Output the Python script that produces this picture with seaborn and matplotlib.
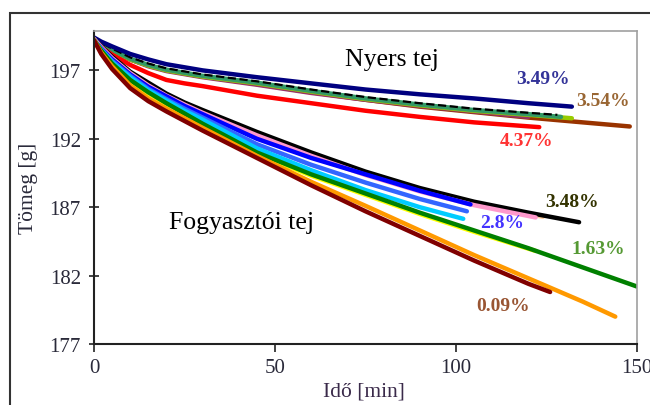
import matplotlib
matplotlib.use("Agg")
import numpy as np
import pandas as pd
import seaborn as sns
import matplotlib.pyplot as plt
from matplotlib.patches import Rectangle

# ---------------- data ----------------
# "Nyers tej" (raw milk) series
t_brown = [0, 2, 5, 10, 15, 20, 30, 45, 60, 75, 90, 105, 120, 135, 148]
v_brown = [199.3, 198.85, 198.35, 197.8, 197.35, 197.0, 196.55, 196.0, 195.4, 194.85, 194.35, 193.95, 193.55, 193.2, 192.9]
t_mauve = [0, 2, 5, 10, 15, 20, 30, 45, 60, 75, 90, 105, 120]
v_mauve = [199.3, 198.85, 198.35, 197.8, 197.3, 196.95, 196.5, 195.95, 195.35, 194.85, 194.4, 194.0, 193.6]
t_lime = [0, 2, 5, 10, 15, 20, 30, 45, 60, 75, 90, 105, 120, 132]
v_lime = [199.35, 198.9, 198.45, 197.8, 197.35, 197.0, 196.55, 196.05, 195.45, 194.9, 194.45, 194.05, 193.75, 193.5]
t_seagreen = [0, 2, 5, 10, 15, 20, 30, 45, 60, 75, 90, 105, 120, 129]
v_seagreen = [199.35, 198.95, 198.5, 197.85, 197.4, 197.05, 196.6, 196.1, 195.5, 194.95, 194.5, 194.1, 193.8, 193.6]
t_rawblack = [0, 2, 5, 10, 15, 20, 30, 45, 60, 75, 90, 105, 120, 128]
v_rawblack = [199.4, 199.0, 198.6, 197.95, 197.5, 197.15, 196.7, 196.2, 195.6, 195.05, 194.6, 194.2, 193.9, 193.75]
t_navy = [0, 2, 5, 10, 15, 20, 30, 45, 60, 75, 90, 105, 120, 132]
v_navy = [199.4, 199.1, 198.75, 198.2, 197.8, 197.45, 197.0, 196.5, 196.05, 195.6, 195.25, 194.95, 194.6, 194.35]
t_red = [0, 2, 5, 10, 15, 20, 25, 30, 45, 60, 75, 90, 105, 123]
v_red = [199.2, 198.7, 198.15, 197.4, 196.8, 196.3, 196.05, 195.85, 195.15, 194.6, 194.05, 193.6, 193.2, 192.85]

# "Fogyasztói tej" (consumer milk) series
t_peach = [0, 2, 5, 10, 15, 20, 25, 30, 45, 60, 75, 90, 105, 124]
v_peach = [199.3, 198.7, 197.95, 196.85, 195.95, 195.2, 194.55, 194.0, 192.4, 190.9, 189.5, 188.3, 187.3, 186.3]
t_black = [0, 2, 5, 10, 15, 20, 25, 30, 45, 60, 75, 90, 105, 120, 134]
v_black = [199.3, 198.75, 198.0, 196.9, 196.1, 195.3, 194.65, 194.1, 192.5, 191.0, 189.6, 188.4, 187.4, 186.6, 185.9]
t_pink = [0, 2, 5, 10, 15, 20, 25, 30, 45, 60, 75, 90, 105, 122]
v_pink = [199.3, 198.7, 197.9, 196.8, 195.9, 195.15, 194.5, 193.9, 192.25, 190.75, 189.35, 188.15, 187.15, 186.25]
t_blue = [0, 2, 5, 10, 15, 20, 25, 30, 45, 60, 75, 90, 104]
v_blue = [199.2, 198.6, 197.8, 196.7, 195.8, 195.1, 194.4, 193.8, 192.0, 190.6, 189.4, 188.2, 187.2]
t_dodger = [0, 2, 5, 10, 15, 20, 25, 30, 45, 60, 75, 90, 103]
v_dodger = [199.2, 198.55, 197.7, 196.6, 195.65, 194.9, 194.2, 193.55, 191.6, 190.1, 188.8, 187.6, 186.7]
t_cyan = [0, 2, 5, 10, 15, 20, 25, 30, 45, 60, 75, 90, 102]
v_cyan = [199.2, 198.5, 197.6, 196.5, 195.55, 194.8, 194.05, 193.4, 191.3, 189.7, 188.25, 187.0, 186.15]
t_yellow = [0, 2, 5, 10, 15, 20, 25, 30, 45, 60, 75, 90, 105, 122]
v_yellow = [199.2, 198.4, 197.4, 196.2, 195.3, 194.5, 193.75, 193.0, 190.9, 189.3, 187.9, 186.5, 185.2, 183.8]
t_green = [0, 2, 5, 10, 15, 20, 25, 30, 45, 60, 75, 90, 105, 120, 135, 150]
v_green = [199.2, 198.45, 197.5, 196.3, 195.4, 194.6, 193.85, 193.1, 191.0, 189.4, 188.0, 186.6, 185.3, 184.0, 182.6, 181.2]
t_orange = [0, 2, 5, 10, 15, 20, 25, 30, 45, 60, 75, 90, 105, 120, 135, 144]
v_orange = [199.2, 198.3, 197.3, 195.9, 194.95, 194.2, 193.5, 192.8, 190.75, 188.85, 187.1, 185.3, 183.5, 181.8, 180.1, 179.0]
t_maroon = [0, 2, 5, 10, 15, 20, 25, 30, 45, 60, 75, 90, 105, 120, 126]
v_maroon = [199.2, 198.2, 197.1, 195.7, 194.75, 194.0, 193.3, 192.6, 190.6, 188.6, 186.7, 184.9, 183.1, 181.4, 180.8]

x_ticks = [0, 50, 100, 150]
y_ticks = [177, 182, 187, 192, 197]
pct_labels = ["3.49%", "3.54%", "4.37%", "3.48%", "2.8%", "1.63%", "0.09%"]
pct_x = [124, 140.6, 119.6, 132, 112.7, 139.2, 113]
pct_y = [196.4, 194.8, 191.86, 187.4, 185.86, 183.95, 179.8]
group_labels = ["Nyers tej", "Fogyasztói tej"]
group_x = [82.3, 40.9]
group_y = [197.8, 185.95]

series = [
    ("brown", t_brown, v_brown, "#993300", "-"),
    ("mauve", t_mauve, v_mauve, "#993366", "-"),
    ("lime", t_lime, v_lime, "#99cc00", "-"),
    ("seagreen", t_seagreen, v_seagreen, "#339966", "-"),
    ("rawblack", t_rawblack, v_rawblack, "#000000", "--"),
    ("navy", t_navy, v_navy, "#000080", "-"),
    ("red", t_red, v_red, "#ff0000", "-"),
    ("peach", t_peach, v_peach, "#ffcc99", "-"),
    ("black", t_black, v_black, "#000000", "-"),
    ("pink", t_pink, v_pink, "#ff99cc", "-"),
    ("blue", t_blue, v_blue, "#0000ff", "-"),
    ("dodger", t_dodger, v_dodger, "#3366ff", "-"),
    ("cyan", t_cyan, v_cyan, "#00ccff", "-"),
    ("yellow", t_yellow, v_yellow, "#ffff00", "-"),
    ("green", t_green, v_green, "#008000", "-"),
    ("orange", t_orange, v_orange, "#ff9900", "-"),
    ("maroon", t_maroon, v_maroon, "#800000", "-"),
]
pct_colors = ["#333399", "#996633", "#ff3333", "#333300", "#4433ff", "#559933", "#995533"]

# ---------------- drawing ----------------
sns.set_theme(style="white")
plt.rcParams["font.family"] = ["Liberation Serif", "DejaVu Serif"]

fig = plt.figure(figsize=(6.5, 4.06), dpi=100)
ax = fig.add_axes([94 / 650, 1 - 345 / 406, (637 - 94) / 650, (345 - 31.7) / 406])

for name, t, v, col, ls in series:
    df = pd.DataFrame({"t": t, "v": v})
    lw = 1.6 if ls == "--" else 3.2
    sns.lineplot(data=df, x="t", y="v", ax=ax, color=col, lw=lw,
                 linestyle=ls, sort=False, estimator=None, legend=False)

ax.set_xlim(0, 150)
ax.set_ylim(177, 199.9)
ax.set_xticks(x_ticks)
ax.set_yticks(y_ticks)
ax.set_xticklabels([str(x) for x in x_ticks])
ax.set_yticklabels([str(y) for y in y_ticks])
ax.set_xlabel("")
ax.set_ylabel("")
ax.tick_params(axis="y", direction="inout", length=7, width=1.2, color="#222222",
               labelsize=15, labelcolor="#2a2a3a", pad=6, left=True)
ax.tick_params(axis="x", direction="out", length=6, width=1.2, color="#222222",
               labelsize=15, labelcolor="#2a2a3a", pad=4, bottom=True)

for s in ["left", "bottom"]:
    ax.spines[s].set_color("#222222")
    ax.spines[s].set_linewidth(1.5)
for s in ["top", "right"]:
    ax.spines[s].set_color("#a0a0a0")
    ax.spines[s].set_linewidth(1.2)

for lab, x, y, c in zip(pct_labels, pct_x, pct_y, pct_colors):
    ax.text(x, y, lab, color=c, fontsize=14, fontweight="bold", ha="center", va="center")
for lab, x, y in zip(group_labels, group_x, group_y):
    ax.text(x, y, lab, color="black", fontsize=18.5, ha="center", va="center")

fig.text(28 / 650, 1 - 188 / 406, "Tömeg [g]", rotation=90, fontsize=15.5,
         color="#2a2a3a", ha="center", va="center")
fig.text(364 / 650, 1 - 392 / 406, "Idő [min]", fontsize=15.5,
         color="#3a2a4a", ha="center", va="center")

fig.add_artist(Rectangle((10 / 650, -0.2), 1.2, 1.2 - 14 / 406, transform=fig.transFigure,
                         fill=False, lw=1.5, ec="#333333"))

fig.savefig("out.png", dpi=100)
